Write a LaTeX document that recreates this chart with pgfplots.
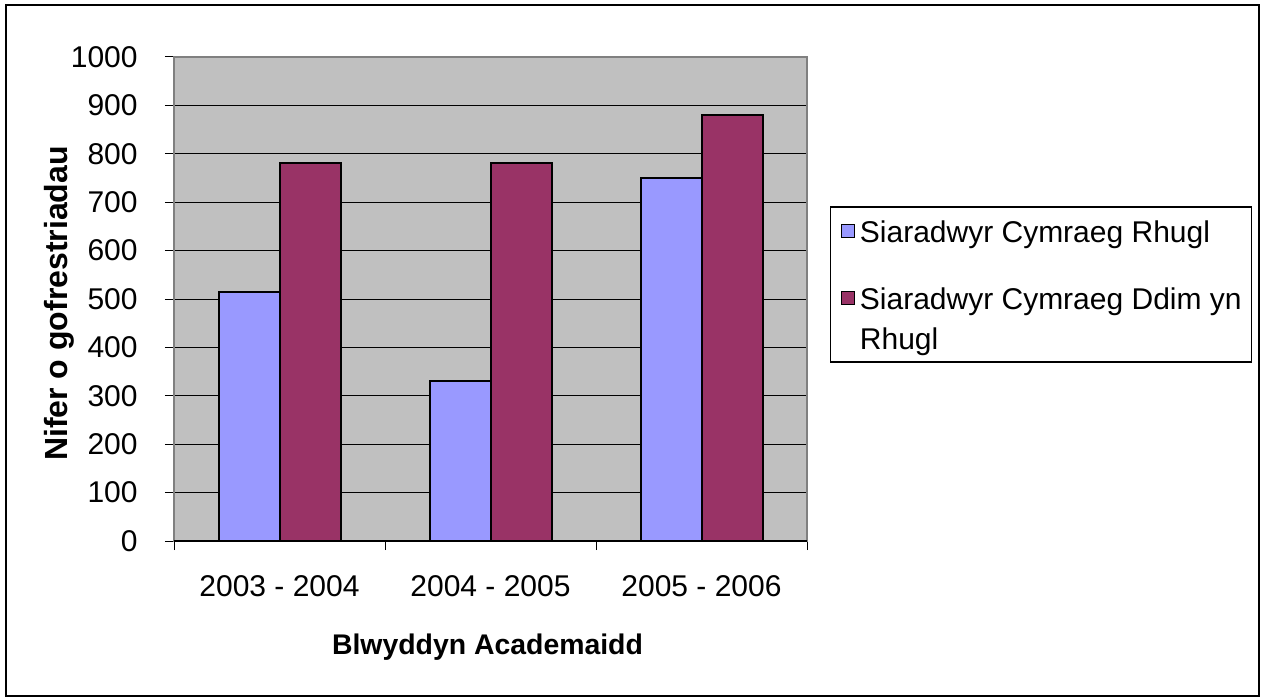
\documentclass[border=0pt]{standalone}
\usepackage{pgfplots}
\pgfplotsset{compat=1.18}
\usepackage{fontspec}
\setmainfont{Liberation Sans}
\definecolor{plotbg}{HTML}{C0C0C0}
\definecolor{barblue}{HTML}{9999FF}
\definecolor{barred}{HTML}{993366}
\definecolor{framegray}{HTML}{808080}
\begin{document}
\begin{tikzpicture}
\useasboundingbox (0,0) rectangle (631.5pt,348.5pt);
\draw[line width=1pt] (3pt,0.5pt) rectangle (629.5pt,346pt);
\begin{axis}[
  at={(87pt,78pt)}, anchor=south west,
  scale only axis, width=316.5pt, height=242pt,
  ybar=0pt, bar width=30.5pt,
  xmin=-0.5, xmax=2.5, ymin=0, ymax=1000,
  xtick={-0.5,0.5,1.5,2.5}, xticklabels={},
  extra x ticks={0,1,2},
  extra x tick labels={2003 - 2004, 2004 - 2005, 2005 - 2006},
  extra x tick style={major tick length=0pt, tick style={draw=none}},
  ytick={0,100,...,1000},
  xtick pos=lower, ytick pos=left,
  tick align=outside,
  major tick length=4.5pt,
  tick style={black, line width=0.5pt},
  ymajorgrids, major grid style={black, line width=0.5pt},
  axis background/.style={fill=plotbg},
  axis line style={framegray, line width=1pt},
  tick label style={font=\fontsize{15}{18}\selectfont},
  xticklabel style={anchor=base, yshift=-27.85pt, inner sep=0pt},
  yticklabel style={anchor=east, inner sep=0pt, xshift=-13.5pt},
  /pgf/number format/1000 sep={},
  /pgf/number format/assume math mode=true,
  xlabel={Blwyddyn Academaidd},
  ylabel={Nifer o gofrestriadau},
  every axis x label/.style={at={(axis description cs:0.4953,-0.2355)}, anchor=base, font=\fontsize{14.2}{17}\selectfont\bfseries},
  every axis y label/.style={at={(axis description cs:-0.169,0.4907)}, rotate=90, anchor=base, font=\fontsize{16}{19}\selectfont\bfseries},
  legend style={at={(axis description cs:1.0363,0.6921)}, anchor=north west,
    draw=black, line width=0.75pt, fill=white,
    inner xsep=5pt, inner ysep=4.5pt, row sep=0pt, column sep=2.5pt,
    nodes={inner sep=0pt, anchor=base west},
    font=\fontsize{15}{18.5}\selectfont},
  legend cell align=left,
  legend image code/.code={\draw[#1, line width=0.6pt] (0pt,2.5pt) rectangle (6.5pt,9pt);},
]
\addplot[fill=barblue, draw=black, line width=1pt] coordinates {(0,515) (1,330) (2,750)};
\addlegendentry{\rule{0pt}{13.5pt}Siaradwyr Cymraeg Rhugl}
\addplot[fill=barred, draw=black, line width=1pt] coordinates {(0,780) (1,780) (2,880)};
\addlegendentry{\rule{0pt}{32pt}Siaradwyr Cymraeg Ddim yn}
\addlegendimage{empty legend}
\addlegendentry{\rule{0pt}{18.5pt}Rhugl}
\draw[black, line width=1pt] (rel axis cs:0,0) -- (rel axis cs:1,0);
\end{axis}
\end{tikzpicture}
\end{document}
